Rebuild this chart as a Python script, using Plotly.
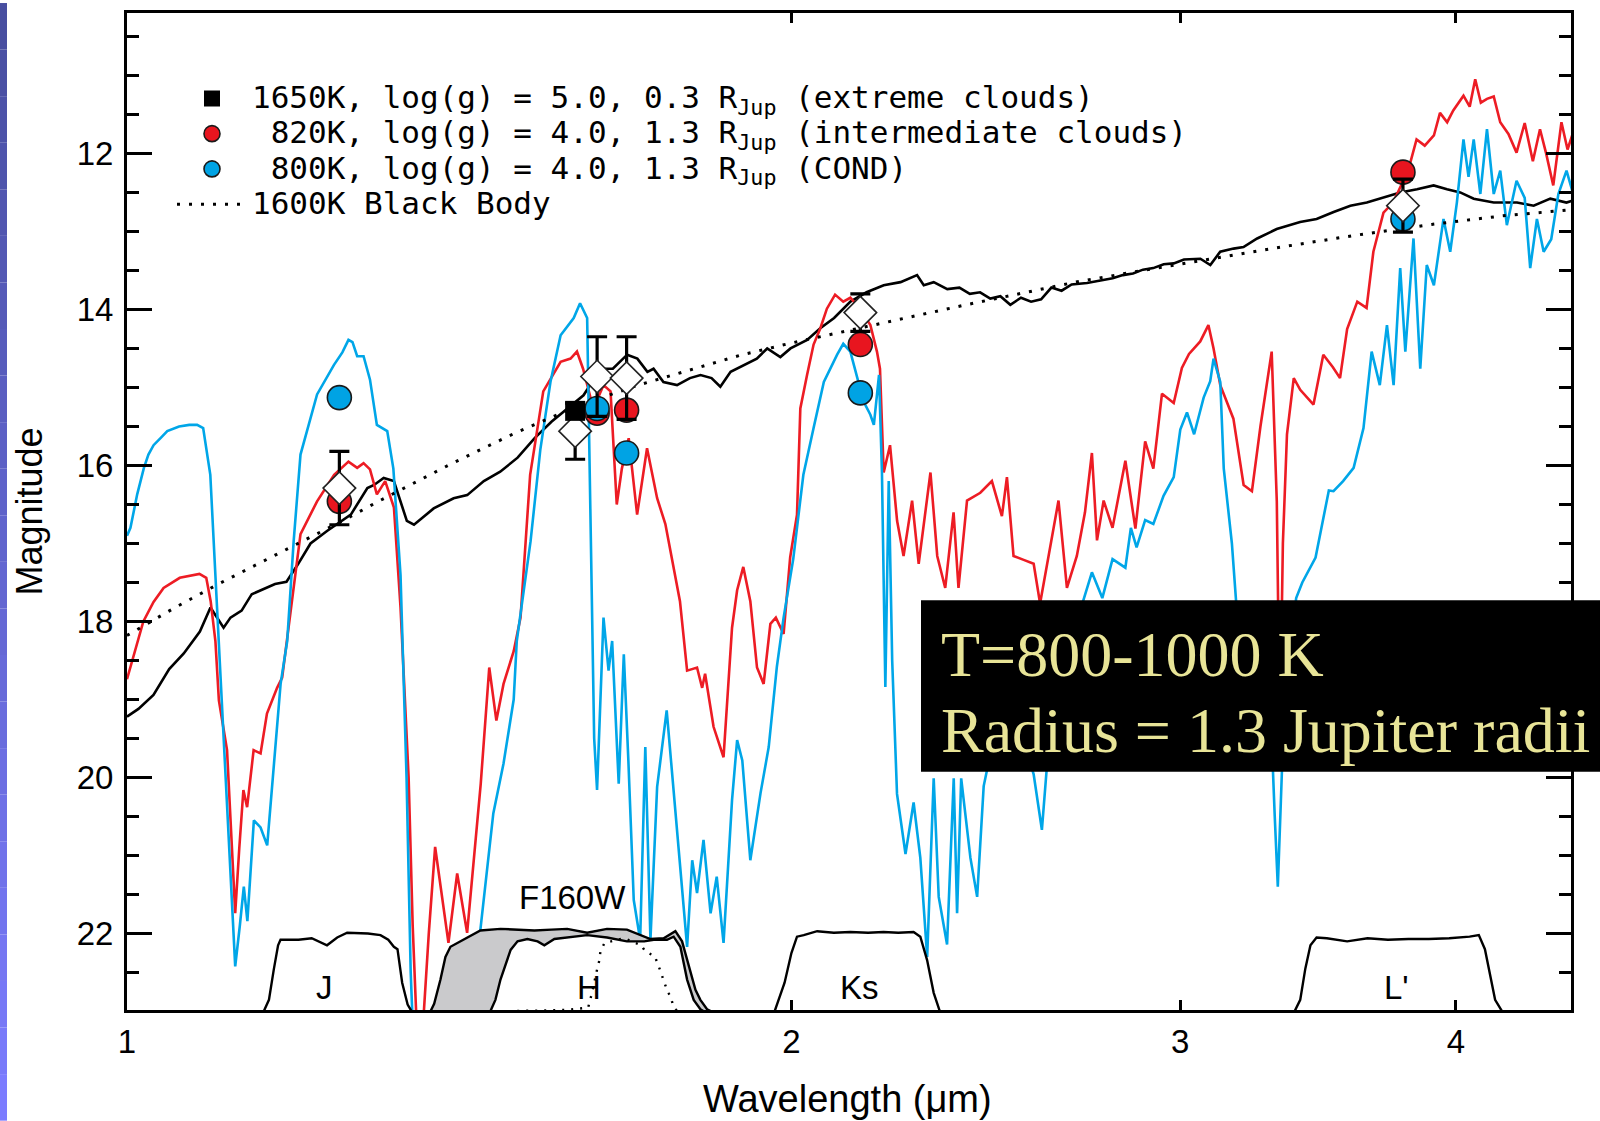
import plotly.graph_objects as go

# ---------------- data ----------------
# 1650K, log(g)=5.0 extreme-cloud model spectrum (black solid)
black_wl = [1.000, 1.012, 1.028, 1.045, 1.061, 1.079, 1.091, 1.106, 1.114, 1.127,
            1.139, 1.167, 1.181, 1.195, 1.211, 1.232, 1.263, 1.285, 1.294, 1.307,
            1.321, 1.330, 1.339, 1.349, 1.377, 1.406, 1.426, 1.451, 1.476, 1.503,
            1.530, 1.557, 1.583, 1.610, 1.639, 1.660, 1.685, 1.703, 1.721, 1.732,
            1.750, 1.775, 1.799, 1.819, 1.840, 1.857, 1.877, 1.903, 1.929, 1.950,
            1.977, 1.998, 2.033, 2.061, 2.091, 2.127, 2.163, 2.202, 2.241, 2.280,
            2.296, 2.320, 2.353, 2.383, 2.409, 2.435, 2.461, 2.487, 2.513, 2.541,
            2.568, 2.595, 2.623, 2.651, 2.679, 2.722, 2.766, 2.796, 2.826, 2.856,
            2.886, 2.917, 2.949, 2.980, 3.012, 3.064, 3.096, 3.128, 3.172, 3.205,
            3.251, 3.318, 3.400, 3.459, 3.521, 3.583, 3.645, 3.696, 3.774, 3.841,
            3.908, 3.963, 4.018, 4.075, 4.161, 4.263, 4.338, 4.414, 4.489, 4.513]
black_mag = [19.22, 19.12, 18.94, 18.61, 18.41, 18.13, 17.82, 18.08, 17.95, 17.86,
             17.65, 17.52, 17.49, 17.27, 17.00, 16.84, 16.63, 16.29, 16.25, 16.16,
             16.20, 16.46, 16.71, 16.76, 16.55, 16.42, 16.38, 16.20, 16.08, 15.90,
             15.65, 15.44, 15.27, 15.10, 14.76, 14.76, 14.58, 14.63, 14.80, 14.76,
             14.93, 14.97, 14.88, 14.84, 14.88, 14.99, 14.80, 14.71, 14.63, 14.50,
             14.61, 14.50, 14.39, 14.24, 14.11, 13.90, 13.78, 13.69, 13.65, 13.56,
             13.69, 13.65, 13.74, 13.72, 13.80, 13.78, 13.86, 13.83, 13.94, 13.85,
             13.90, 13.87, 13.72, 13.76, 13.68, 13.66, 13.62, 13.60, 13.56, 13.54,
             13.49, 13.47, 13.42, 13.41, 13.36, 13.35, 13.43, 13.26, 13.22, 13.20,
             13.09, 12.97, 12.88, 12.84, 12.75, 12.67, 12.63, 12.58, 12.50, 12.46,
             12.41, 12.46, 12.50, 12.58, 12.63, 12.63, 12.67, 12.58, 12.63, 12.61]

# 1600K black body (dotted)
bb_wl = [1.00, 1.05, 1.10, 1.15, 1.20, 1.25, 1.30, 1.35, 1.40, 1.50, 1.60, 1.70,
         1.80, 1.90, 2.00, 2.20, 2.40, 2.70, 3.00, 3.30, 3.60, 3.90, 4.20, 4.52]
bb_mag = [18.18, 17.83, 17.52, 17.24, 16.98, 16.72, 16.46, 16.22, 15.99, 15.58, 15.24, 14.98,
          14.77, 14.58, 14.43, 14.17, 13.94, 13.64, 13.42, 13.22, 13.05, 12.91, 12.80, 12.72]

# 820K intermediate-cloud model spectrum (red)
red_wl = [1.0000, 1.0086, 1.0172, 1.0281, 1.0389, 1.0566, 1.0785, 1.0862, 1.0912, 1.0966,
          1.1006, 1.1100, 1.1148, 1.1195, 1.1243, 1.1291, 1.1335, 1.1412, 1.1495, 1.1572,
          1.1695, 1.1757, 1.1870, 1.1984, 1.2193, 1.2412, 1.2599, 1.2714, 1.2799, 1.2885,
          1.2978, 1.3091, 1.3211, 1.3302, 1.3415, 1.3472, 1.3529, 1.3616, 1.3700, 1.3791,
          1.3984, 1.4112, 1.4259, 1.4463, 1.4592, 1.4701, 1.4811, 1.4969, 1.5076, 1.5228,
          1.5438, 1.5720, 1.5884, 1.5990, 1.6092, 1.6265, 1.6439, 1.6560, 1.6668, 1.6757,
          1.6877, 1.7026, 1.7203, 1.7385, 1.7535, 1.7719, 1.7804, 1.7937, 1.8124, 1.8221,
          1.8277, 1.8439, 1.8632, 1.8798, 1.8898, 1.9020, 1.9160, 1.9294, 1.9428, 1.9565,
          1.9677, 1.9837, 1.9973, 2.0116, 2.0186, 2.0328, 2.0467, 2.0612, 2.0753, 2.0931,
          2.1111, 2.1267, 2.1495, 2.1716, 2.1866, 2.1935, 2.2020, 2.2166, 2.2330, 2.2481,
          2.2682, 2.2839, 2.3121, 2.3285, 2.3480, 2.3685, 2.3807, 2.4020, 2.4355, 2.4651,
          2.4910, 2.5041, 2.5214, 2.5482, 2.5749, 2.5922, 2.6294, 2.6425, 2.6658, 2.6935,
          2.7165, 2.7362, 2.7508, 2.7699, 2.7957, 2.8334, 2.8632, 2.8925, 2.9173, 2.9437,
          2.9800, 3.0055, 3.0279, 3.0636, 3.0898, 3.1064, 3.1283, 3.1714, 3.2054, 3.2333,
          3.2621, 3.3006, 3.3183, 3.3288, 3.3394, 3.3537, 3.3775, 3.4004, 3.4478, 3.4832,
          3.5183, 3.5445, 3.5709, 3.6089, 3.6440, 3.6700, 3.7089, 3.7463, 3.7863, 3.8139,
          3.8391, 3.8720, 3.9092, 3.9341, 3.9637, 3.9890, 4.0317, 4.0580, 4.0814, 4.1054,
          4.1317, 4.1610, 4.1893, 4.2253, 4.2612, 4.2976, 4.3343, 4.3667, 4.3947, 4.4276,
          4.4655, 4.4940, 4.5180]
red_mag = [18.74, 18.35, 18.00, 17.75, 17.57, 17.44, 17.39, 17.44, 17.74, 18.25,
           19.01, 19.65, 20.80, 21.74, 20.90, 20.16, 20.38, 19.65, 19.69, 19.18,
           18.85, 18.72, 17.80, 16.88, 16.46, 16.12, 15.95, 16.03, 15.97, 16.05,
           16.37, 16.20, 16.54, 17.82, 20.00, 21.90, 23.20, 23.20, 22.00, 20.89,
           22.12, 21.23, 21.99, 20.08, 18.59, 19.27, 18.80, 18.38, 17.95, 16.12,
           15.05, 14.67, 14.63, 14.54, 14.76, 15.27, 14.97, 15.05, 16.50, 16.04,
           15.65, 16.63, 15.78, 16.42, 16.75, 17.40, 17.74, 18.63, 18.59, 18.85,
           18.67, 19.35, 19.74, 18.08, 17.60, 17.30, 17.74, 18.59, 18.80, 18.03,
           17.95, 18.16, 17.18, 16.63, 15.27, 14.84, 14.45, 14.24, 13.99, 13.81,
           13.90, 13.85, 14.00, 14.20, 14.54, 14.76, 16.09, 15.74, 16.71, 17.16,
           16.45, 17.26, 16.09, 17.16, 17.57, 16.60, 17.57, 16.45, 16.35, 16.20,
           16.65, 16.15, 17.16, 17.21, 17.26, 17.77, 16.76, 16.45, 17.57, 17.16,
           16.60, 15.84, 16.96, 16.45, 16.80, 15.94, 16.81, 15.69, 16.04, 15.08,
           15.20, 14.75, 14.57, 14.41, 14.20, 14.50, 14.97, 15.40, 16.25, 16.33,
           15.50, 14.54, 16.46, 19.50, 17.00, 15.60, 14.88, 15.03, 15.22, 14.58,
           14.74, 14.88, 14.25, 13.90, 13.98, 13.26, 12.76, 12.63, 12.35, 12.12,
           11.82, 11.90, 11.77, 11.48, 11.60, 11.45, 11.26, 11.40, 11.05, 11.35,
           11.30, 11.27, 11.60, 11.75, 11.99, 11.61, 12.10, 11.69, 12.00, 12.41,
           11.60, 11.95, 11.75]

# 800K COND model spectrum (blue)
blue_wl = [1.0000, 1.0036, 1.0107, 1.0178, 1.0226, 1.0281, 1.0356, 1.0429, 1.0558, 1.0671,
           1.0759, 1.0827, 1.0908, 1.0966, 1.1057, 1.1137, 1.1195, 1.1249, 1.1296, 1.1338,
           1.1415, 1.1495, 1.1575, 1.1738, 1.1819, 1.1899, 1.1984, 1.2193, 1.2410, 1.2519,
           1.2599, 1.2652, 1.2714, 1.2799, 1.2885, 1.2978, 1.3119, 1.3203, 1.3302, 1.3386,
           1.3444, 1.3487, 1.4330, 1.4392, 1.4458, 1.4654, 1.4811, 1.4969, 1.5017, 1.5235,
           1.5390, 1.5554, 1.5720, 1.5936, 1.6042, 1.6161, 1.6210, 1.6245, 1.6280, 1.6329,
           1.6386, 1.6439, 1.6526, 1.6588, 1.6702, 1.6791, 1.6872, 1.6966, 1.7080, 1.7172,
           1.7264, 1.7385, 1.7559, 1.7653, 1.7777, 1.7937, 1.8033, 1.8124, 1.8247, 1.8382,
           1.8500, 1.8632, 1.8798, 1.8898, 1.9000, 1.9160, 1.9365, 1.9531, 1.9698, 1.9837,
           2.0037, 2.0250, 2.0467, 2.0687, 2.0976, 2.1111, 2.1267, 2.1426, 2.1563, 2.1716,
           2.1795, 2.1913, 2.1980, 2.2058, 2.2136, 2.2216, 2.2328, 2.2527, 2.2718, 2.2878,
           2.3042, 2.3199, 2.3321, 2.3525, 2.3689, 2.3772, 2.3874, 2.4105, 2.4275, 2.4441,
           2.4736, 2.5134, 2.5405, 2.5749, 2.5971, 2.6117, 2.6508, 2.6935, 2.7362, 2.7661,
           2.7957, 2.8334, 2.8497, 2.8668, 2.8925, 2.9173, 2.9485, 2.9800, 3.0005, 3.0215,
           3.0441, 3.0745, 3.0957, 3.1064, 3.1283, 3.1397, 3.1496, 3.1664, 3.1833, 3.2106,
           3.2621, 3.3006, 3.3112, 3.3218, 3.3324, 3.3430, 3.3644, 3.3860, 3.4077, 3.4552,
           3.5034, 3.5205, 3.5559, 3.5952, 3.6324, 3.6634, 3.6947, 3.7224, 3.7483, 3.7742,
           3.7944, 3.8269, 3.8540, 3.8802, 3.9092, 3.9485, 3.9763, 4.0040, 4.0317, 4.0530,
           4.0749, 4.1032, 4.1317, 4.1610, 4.1893, 4.2183, 4.2612, 4.2976, 4.3223, 4.3527,
           4.3834, 4.4182, 4.4512, 4.4892, 4.5208]
blue_mag = [16.90, 16.80, 16.37, 16.03, 15.86, 15.74, 15.65, 15.56, 15.50, 15.48,
            15.48, 15.52, 16.12, 17.40, 19.44, 21.14, 22.42, 21.90, 21.40, 21.84,
            20.55, 20.64, 20.87, 18.80, 18.25, 16.97, 15.86, 15.09, 14.71, 14.55,
            14.39, 14.42, 14.60, 14.60, 14.90, 15.48, 15.56, 16.04, 17.40, 20.00,
            22.50, 23.50, 23.50, 22.70, 21.95, 20.46, 19.82, 19.00, 18.25, 16.97,
            15.80, 14.93, 14.33, 14.11, 13.92, 14.11, 16.50, 18.25, 19.50, 20.16,
            19.00, 17.95, 18.63, 18.25, 20.08, 18.42, 19.80, 21.57, 22.08, 19.61,
            22.08, 20.12, 19.14, 19.90, 20.80, 22.17, 21.06, 21.48, 20.80, 21.74,
            21.27, 22.12, 20.29, 19.52, 19.78, 21.06, 20.20, 19.61, 18.58, 17.95,
            17.20, 16.12, 15.52, 14.93, 14.58, 14.44, 14.54, 14.90, 15.18, 15.35,
            15.48, 14.84, 16.09, 18.84, 16.20, 18.50, 20.21, 20.98, 20.32, 21.03,
            22.30, 20.01, 21.53, 22.14, 20.01, 21.74, 20.01, 21.03, 21.53, 20.11,
            19.40, 19.00, 19.40, 19.96, 20.67, 19.80, 18.90, 18.00, 17.37, 17.70,
            17.20, 17.31, 16.80, 17.05, 16.70, 16.75, 16.39, 16.15, 15.54, 15.32,
            15.60, 15.13, 14.92, 14.63, 14.93, 16.04, 16.40, 17.00, 17.90, 18.80,
            19.30, 19.50, 20.50, 21.40, 20.30, 19.20, 18.40, 17.70, 17.50, 17.18,
            16.32, 16.33, 16.20, 16.03, 15.52, 14.54, 14.97, 14.20, 14.97, 13.47,
            14.54, 13.09, 14.76, 13.43, 13.69, 12.84, 13.26, 12.63, 11.82, 12.30,
            11.82, 12.52, 11.69, 12.52, 12.22, 12.92, 12.35, 12.57, 13.47, 12.84,
            13.26, 13.10, 12.52, 12.22, 12.52]

# filter transmission curves (drawn in magnitude units at the bottom)
j_wl = [1.1532, 1.1596, 1.1655, 1.1707, 1.1737, 1.1959, 1.2125, 1.2320, 1.2452, 1.2582,
        1.2857, 1.3027, 1.3133, 1.3210, 1.3260, 1.3325, 1.3401, 1.3459]
j_mag = [23.0, 22.85, 22.46, 22.15, 22.08, 22.08, 22.06, 22.15, 22.05, 21.99,
         22.00, 22.02, 22.08, 22.17, 22.20, 22.63, 22.91, 23.0]

f160w_wl = [1.3723, 1.3777, 1.3868, 1.3940, 1.4013, 1.4159, 1.4307, 1.4458, 1.4764, 1.5030,
            1.5296, 1.5570, 1.5828, 1.6161, 1.6500, 1.6846, 1.7085, 1.7264, 1.7504, 1.7719,
            1.7843, 1.8000, 1.8094, 1.8187, 1.8314, 1.8400]
f160w_mag = [23.0, 22.90, 22.59, 22.30, 22.17, 22.10, 22.02, 21.96, 21.94, 21.95,
             21.96, 21.95, 21.94, 21.99, 21.94, 21.95, 22.02, 22.07, 22.06, 21.97,
             22.10, 22.51, 22.72, 22.85, 22.97, 23.0]

h_wl = [1.4607, 1.4686, 1.4764, 1.4921, 1.5029, 1.5184, 1.5347, 1.5455, 1.5618, 1.5828,
        1.6161, 1.6500, 1.6846, 1.7152, 1.7324, 1.7565, 1.7687, 1.7812, 1.7937, 1.8061,
        1.8187, 1.8260]
h_mag = [23.0, 22.85, 22.59, 22.21, 22.10, 22.07, 22.10, 22.15, 22.07, 22.05,
         22.02, 22.05, 22.10, 22.10, 22.08, 22.08, 22.04, 22.17, 22.59, 22.85,
         22.97, 23.0]

narrow_wl = [1.4607, 1.5243, 1.5797, 1.6178, 1.6247, 1.6317, 1.6366, 1.6386, 1.6456, 1.6800,
             1.7099, 1.7172, 1.7342, 1.7429, 1.7504, 1.7578, 1.7627, 1.7690, 1.7766]
narrow_mag = [23.0, 22.99, 22.98, 22.95, 22.75, 22.50, 22.35, 22.23, 22.12, 22.06,
              22.15, 22.23, 22.29, 22.45, 22.60, 22.75, 22.80, 22.95, 23.0]

ks_wl = [1.9650, 1.9857, 1.9999, 2.0116, 2.0258, 2.0544, 2.0905, 2.1267, 2.1665, 2.2017,
         2.2358, 2.2718, 2.2878, 2.3040, 2.3199, 2.3350]
ks_mag = [23.0, 22.63, 22.25, 22.04, 22.02, 21.97, 21.99, 21.98, 21.99, 21.98,
          21.99, 21.98, 22.04, 22.34, 22.76, 23.0]

lp_wl = [3.380, 3.4004, 3.4185, 3.4368, 3.4588, 3.4961, 3.5710, 3.6478, 3.7263, 3.8066,
         3.8885, 3.9721, 4.0576, 4.0967, 4.1229, 4.1449, 4.1670, 4.1980]
lp_mag = [23.0, 22.85, 22.45, 22.15, 22.05, 22.06, 22.10, 22.06, 22.08, 22.07,
          22.07, 22.06, 22.04, 22.02, 22.20, 22.55, 22.85, 23.0]

# photometry
obs_wl = [1.248, 1.596, 1.633, 1.684, 2.149, 3.785]
obs_mag = [16.29, 15.56, 14.86, 14.88, 14.04, 12.67]
obs_err = [0.47, 0.36, 0.51, 0.53, 0.24, 0.34]

red_pt_wl = [1.248, 1.633, 1.684, 2.149, 3.785]
red_pt_mag = [16.46, 15.33, 15.29, 14.45, 12.24]
blue_pt_wl = [1.248, 1.633, 1.684, 2.149, 3.785]
blue_pt_mag = [15.13, 15.27, 15.84, 15.07, 12.84]
sq_wl = [1.596]
sq_mag = [15.30]

x_tick_vals = [1, 2, 3, 4]
x_tick_text = ["1", "2", "3", "4"]

legend_names = [
    "1650K, log(g) = 5.0, 0.3 R<sub>Jup</sub> (extreme clouds)",
    "\u00a0820K, log(g) = 4.0, 1.3 R<sub>Jup</sub> (intermediate clouds)",
    "\u00a0800K, log(g) = 4.0, 1.3 R<sub>Jup</sub> (COND)",
    "1600K Black Body",
]

for a, b in [(black_wl, black_mag), (bb_wl, bb_mag), (red_wl, red_mag), (blue_wl, blue_mag),
             (j_wl, j_mag), (f160w_wl, f160w_mag), (h_wl, h_mag), (narrow_wl, narrow_mag),
             (ks_wl, ks_mag), (lp_wl, lp_mag)]:
    assert len(a) == len(b), (len(a), len(b))

# ---------------- styles ----------------
RED = "#ED1C24"
BLUE = "#00A6E8"
LW = 2.6
LEG_TEXT_PX = 31


def leg(name):
    return f'<span style="font-size:{LEG_TEXT_PX}px">{name}</span>'


fig = go.Figure()

# spectra
fig.add_trace(go.Scatter(x=black_wl, y=black_mag, mode="lines", line=dict(color="black", width=LW),
                         showlegend=False, hoverinfo="skip"))
fig.add_trace(go.Scatter(x=red_wl, y=red_mag, mode="lines", line=dict(color=RED, width=LW),
                         showlegend=False, hoverinfo="skip"))
fig.add_trace(go.Scatter(x=blue_wl, y=blue_mag, mode="lines", line=dict(color=BLUE, width=LW),
                         showlegend=False, hoverinfo="skip"))
fig.add_trace(go.Scatter(x=bb_wl, y=bb_mag, mode="lines", name=leg(legend_names[3]), legendrank=4,
                         line=dict(color="black", width=3, dash="3px,9px"), hoverinfo="skip"))


# filters
def filt(wl, mag, fillcolor, dash=None, fill=True):
    fig.add_trace(go.Scatter(x=wl, y=mag, mode="lines",
                             fill="toself" if fill else None, fillcolor=fillcolor,
                             line=dict(color="black", width=2.4, dash=dash),
                             showlegend=False, hoverinfo="skip"))


filt(j_wl, j_mag, "white")
filt(f160w_wl, f160w_mag, "#CACACC")
filt(h_wl, h_mag, "white")
filt(narrow_wl, narrow_mag, None, dash="2px,7px", fill=False)
filt(ks_wl, ks_mag, "white")
filt(lp_wl, lp_mag, "white")

# model photometry
fig.add_trace(go.Scatter(x=red_pt_wl, y=red_pt_mag, mode="markers", name=leg(legend_names[1]), legendrank=2,
                         marker=dict(symbol="circle", size=24, color="#E8151F",
                                     line=dict(color="#1a1a1a", width=1.6)), hoverinfo="skip"))
fig.add_trace(go.Scatter(x=blue_pt_wl, y=blue_pt_mag, mode="markers", name=leg(legend_names[2]), legendrank=3,
                         marker=dict(symbol="circle", size=24, color="#00A3E4",
                                     line=dict(color="#1a1a1a", width=1.6)), hoverinfo="skip"))
# observed photometry
fig.add_trace(go.Scatter(x=obs_wl, y=obs_mag, mode="markers", showlegend=False,
                         marker=dict(symbol="diamond", size=25, color="white",
                                     line=dict(color="#222222", width=1.6)),
                         error_y=dict(type="data", array=obs_err, color="black", thickness=3.2, width=10),
                         hoverinfo="skip"))
fig.add_trace(go.Scatter(x=sq_wl, y=sq_mag, mode="markers", name=leg(legend_names[0]), legendrank=1,
                         marker=dict(symbol="square", size=20, color="black"), hoverinfo="skip"))

# ---------------- layout ----------------
L, R, T, B = 127, 29, 10, 111
W, H = 1600, 1121
PW, PH = W - L - R, H - T - B


def px2paper_x(px):
    return (px - L) / PW


def px2paper_y(py):
    return 1 - (py - T) / PH


tick_font = dict(family="Liberation Sans", size=33, color="black")
fig.update_layout(
    width=W, height=H,
    margin=dict(l=L, r=R, t=T, b=B, pad=0),
    paper_bgcolor="white", plot_bgcolor="white",
    showlegend=True,
    legend=dict(x=px2paper_x(172), y=px2paper_y(73), xanchor="left", yanchor="top",
                font=dict(family="DejaVu Sans Mono", size=24.8, color="black"),
                bgcolor="rgba(0,0,0,0)", borderwidth=0, itemwidth=70,
                tracegroupgap=0, itemclick=False),
    xaxis=dict(type="log", range=[0, 0.6542], tickmode="array", tickvals=x_tick_vals,
               ticktext=x_tick_text, ticks="inside", ticklen=10, tickwidth=3, tickcolor="black",
               showline=True, linewidth=3, linecolor="black", mirror="ticks",
               showgrid=False, zeroline=False, tickfont=tick_font, ticklabelstandoff=0),
    yaxis=dict(range=[22.98, 10.2], tickmode="linear", tick0=12, dtick=2,
               ticks="inside", ticklen=25, tickwidth=3, tickcolor="black",
               minor=dict(tickmode="linear", tick0=10, dtick=0.5, ticks="inside", ticklen=12,
                          tickwidth=3, tickcolor="black", showgrid=False),
               showline=True, linewidth=3, linecolor="black", mirror="ticks",
               showgrid=False, zeroline=False, tickfont=tick_font, ticklabelstandoff=4),
)

# axis titles
fig.add_annotation(x=px2paper_x(29), y=px2paper_y(510), xref="paper", yref="paper",
                   xanchor="center", yanchor="middle",
                   text="Magnitude", textangle=-90, showarrow=False,
                   font=dict(family="Liberation Sans", size=36, color="black"))
fig.add_annotation(x=px2paper_x(847), y=px2paper_y(1099), xref="paper", yref="paper",
                   xanchor="center", yanchor="middle",
                   text="Wavelength (\u03bcm)", showarrow=False,
                   font=dict(family="Liberation Sans", size=38, color="black"))

# filter labels (x in log10 units on the log axis)
lab_font = dict(family="Liberation Sans", size=33, color="black")
for txt, lx, ly in [("J", 0.0896, 22.69), ("H", 0.2094, 22.69), ("Ks", 0.3320, 22.69),
                    ("L'", 0.5750, 22.69), ("F160W", 0.2018, 21.54)]:
    fig.add_annotation(x=lx, y=ly, xref="x", yref="y", text=txt, showarrow=False, font=lab_font)

# black text box with yellow serif text
fig.add_shape(type="rect", xref="paper", yref="paper",
              x0=px2paper_x(921), x1=px2paper_x(1600), y0=px2paper_y(771), y1=px2paper_y(599),
              fillcolor="black", line=dict(width=0), layer="above")
box_font = dict(family="Liberation Serif", size=64, color="#E8E497")
fig.add_annotation(x=px2paper_x(939), y=px2paper_y(653), xref="paper", yref="paper",
                   text="T=800-1000 K", showarrow=False, xanchor="left", yanchor="middle", font=box_font)
fig.add_annotation(x=px2paper_x(939), y=px2paper_y(730), xref="paper", yref="paper",
                   text="Radius = 1.3 Jupiter radii", showarrow=False, xanchor="left", yanchor="middle",
                   font=box_font)

# slide-background strip at the far left (gradient approximated by bands)
n = 24
for i in range(n):
    t = i / (n - 1)
    r = int(72 + (124 - 72) * t)
    g = int(78 + (124 - 78) * t)
    b = int(160 + (255 - 160) * t)
    fig.add_shape(type="rect", xref="paper", yref="paper",
                  x0=px2paper_x(0), x1=px2paper_x(7),
                  y0=px2paper_y(H * (i + 1) / n), y1=px2paper_y(H * i / n),
                  fillcolor=f"rgb({r},{g},{b})", line=dict(width=0), layer="above")

fig.write_html("out.html",
               config={"displayModeBar": False, "staticPlot": True},
               post_script="document.body.style.margin='0px';document.body.style.overflow='hidden';")
